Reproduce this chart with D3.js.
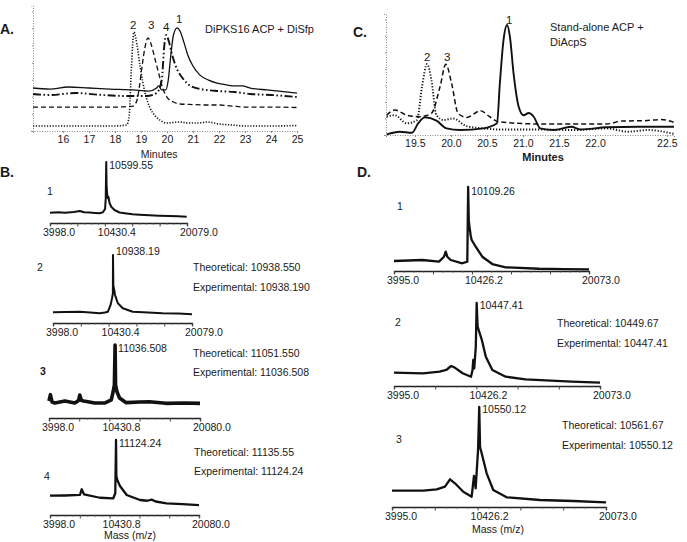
<!DOCTYPE html>
<html>
<head>
<meta charset="utf-8">
<script src="https://cdn.jsdelivr.net/npm/d3@7"></script>
<style>
  body { margin: 0; background: #fff; }
  text { font-family: "Liberation Sans", Arial, sans-serif; fill: #1a1a1a; }
</style>
</head>
<body>
<svg id="main" width="687" height="542"></svg>
<script>
// ---------- panel A: HPLC traces (minutes, relative absorbance) ----------
const aSolid = [[14.85,37.7],[15.5,36.8],[16.2,38.6],[17.0,37.7],[17.8,36.8],[18.7,36],[19.3,35],[19.6,37.7],[19.68,39.5],
  [19.8,36],[19.95,36],[20.05,44.7],[20.15,66.7],[20.25,84.2],[20.39,90.4],[20.5,87.7],[20.65,78],[20.8,66.7],[21.0,57],
  [21.27,49],[21.6,44.7],[21.93,42],[22.3,40.4],[22.6,39.5],[22.9,39.5],[23.2,37.7],[23.85,36],[24.3,35],[25.0,33.3]];
const aDashDot = [[14.85,32.5],[15.5,31.6],[16.5,33.3],[17.5,31.6],[18.5,30.7],[19.2,30.7],[19.6,33.3],[19.8,44.7],
  [19.9,75.4],[19.97,84.2],[20.08,78],[20.2,66.7],[20.4,53.5],[20.6,46.5],[20.9,39.5],[21.3,36.8],[22.0,35],[22.6,34.2],
  [23.2,32.5],[24.0,31.6],[25.0,29.8]];
const aDashed = [[14.85,21],[16,21],[17,21],[18,21],[18.7,21.9],[18.85,27.2],[18.95,40.4],[19.05,57.9],[19.15,72.8],
  [19.27,81.6],[19.4,75.4],[19.55,62.3],[19.7,49.1],[19.85,36.8],[20.0,29.8],[20.25,25.4],[20.5,23.7],[21,23.2],
  [21.5,22.8],[22,22.8],[22.5,21.9],[23,21],[24,21],[25,20.6]];
const aDotted = [[14.85,4.4],[16,4.4],[17,4.4],[18,4.4],[18.45,5.3],[18.55,14],[18.63,53.5],[18.73,86.8],[18.85,75.4],
  [18.97,56],[19.16,33.3],[19.35,20.2],[19.55,13.2],[19.73,9.6],[20.0,7],[20.5,7.9],[20.8,7],[21.2,7],[21.55,7.9],
  [22.0,6.1],[22.5,5.3],[23.0,4.4],[24,4.4],[25,4.8]];
const aPeakNames = ["2", "3", "4", "1"];
const aPeakTimes = [18.7, 19.39, 19.97, 20.47];
const aPeakLevels = [89.5, 89.5, 87.7, 94.7];
const aTicks = [16, 17, 18, 19, 20, 21, 22, 23, 24, 25];

// ---------- panel C: HPLC traces ----------
const cSolid = [[19.11,0.6],[19.29,3],[19.46,2],[19.55,11],[19.64,16],[19.8,13],[19.94,6],[20.13,4.5],[20.45,6],
  [20.64,10.6],[20.68,47],[20.73,86],[20.78,100],[20.82,89],[20.87,56],[20.94,26],[21.01,18],[21.08,20],[21.15,16.6],
  [21.24,6],[21.43,4.5],[21.67,7.5],[21.8,5],[22.08,7],[22.3,7.5],[22.55,7.5]];
const cDotted = [[19.11,16.6],[19.22,18],[19.39,10.6],[19.53,13.6],[19.6,44],[19.67,64.5],[19.73,50],[19.8,18],
  [19.9,13.6],[20.03,15],[20.22,8],[20.45,6],[20.68,5],[21.24,5],[21.7,4.5],[22.08,6],[22.23,3],[22.37,4.5],[22.55,1]];
const cDashed = [[19.11,18],[19.22,22.7],[19.39,18],[19.57,16.6],[19.73,19.7],[19.85,44],[19.93,64.3],[20.01,47],
  [20.1,19.7],[20.22,16],[20.41,22],[20.54,16.6],[20.66,12],[21.24,10],[22.08,10],[22.19,12.7],[22.34,13],[22.46,14],[22.55,11.5]];
const cPeakNames = ["1", "2", "3"];
const cPeakTimes = [20.81, 19.67, 19.95];
const cPeakLevels = [100.9, 67.3, 67.3];
const cTicks = [19.5, 20.0, 20.5, 21.0, 21.5, 22.0, 22.5];

// ---------- panels B and D: MALDI spectra (m/z, relative intensity) ----------
const specB1 = [[3998,16.9],[5000,17.5],[5745,16.9],[6800,18],[7493,19.7],[8000,17.5],[8658,17.2],[9300,16.5],[9823,15.9],
  [10207,17.5],[10464,23],[10540,40],[10599.55,100],[10640,60],[10675,54],[10730,44],[10790,40.5],[10850,43],[10988,32.8],
  [11186,26.7],[11570,21.3],[12153,17.2],[13000,15.5],[13702,14.3],[14500,13.5],[15648,12.6],[16800,12],[17978,11.5],
  [19000,11],[20040,10.3]];
const specB2 = [[3998,15.7],[5500,16.2],[7100,16.6],[8300,15.5],[9398,14.3],[10000,15.5],[10352,16.6],[10662,26.5],
  [10850,38],[10927,43.7],[10938.19,100],[10980,55],[11085,48.5],[11160,42],[11237,38.7],[11501,29],[12076,21.6],
  [13224,16.6],[15000,15.5],[16671,14.3],[18500,13.8],[20079,12.8]];
const specB3 = [[3998,23.3],[4150,32],[4315,22],[4633,20.5],[5691,23.3],[6749,20.5],[7150,24],[7278,31.5],[7450,24],
  [7701,23.3],[8865,20.5],[9923,20.5],[10632,24.7],[10822,35.6],[10960,45],[11036.508,100],[11087,45],[11246,35.6],
  [11510,27.4],[12219,21],[13626,21.9],[14684,22.3],[16451,20.1],[18387,20.5],[20080,20.1]];
const specB4 = [[3998,25.7],[5617,26],[7235,26.7],[7418,34.3],[7667,27.6],[9393,23],[10828,22.3],[11044,29],
  [11124.24,100],[11160,52],[11260,46.7],[11551,38.7],[12274,26.7],[13709,20],[14500,19],[14971,20.5],[15400,18],
  [16590,15.6],[18300,14.5],[20080,13.3]];
const specD1 = [[3995,11.9],[5200,12.5],[6328,13.1],[7705,11.1],[8118,17],[8258,23],[8390,17],[8670,13.1],[9626,9.2],
  [10039,11.1],[10109.26,100],[10160,60],[10236,50.8],[10320,42],[10401,36.9],[10731,28.9],[11275,17],[12100,8.3],
  [13205,4.4],[15950,2.7],[18000,2.3],[20073,2]];
const specD2 = [[3995,16],[6260,15.3],[7551,17.2],[8069,19.3],[8455,24.1],[8710,22.5],[9352,15.3],[10001,11.2],
  [10125,19.3],[10179,31.3],[10256,21.3],[10380,47.3],[10447.41,100],[10520,72],[10643,65.4],[10852,55.4],[11161,35.3],
  [11671,19.3],[12707,11.2],[14253,8.1],[17855,5.2],[20073,4]];
const specD3 = [[3995,16.3],[6346,16.3],[7352,17.7],[7975,20.3],[8351,27.7],[8726,23.7],[9350,15.3],[9980,10.3],
  [10153,31],[10281,18.7],[10460,57],[10550.12,100],[10610,60],[10732,53.7],[11107,33.7],[11603,17],[12609,9.7],
  [15110,7],[17611,6],[20073,4.7]];

const massTicksB12 = ["3998.0", "10430.4", "20079.0"];
const massTicksB34 = ["3998.0", "10430.8", "20080.0"];
const massTicksD = ["3995.0", "10426.2", "20073.0"];
const peakMasses = ["10599.55", "10938.19", "11036.508", "11124.24", "10109.26", "10447.41", "10550.12"];
const theoretical = [null, "10938.550", "11051.550", "11135.55", null, "10449.67", "10561.67"];
const experimental = [null, "10938.190", "11036.508", "11124.24", null, "10447.41", "10550.12"];
const traceNames = ["1", "2", "3", "4", "1", "2", "3"];

const svg = d3.select('#main');

// ---------- chromatogram helper ----------
function chromatogram(g, x, y, yTop, ticks, fmt) {
  const xAxis = d3.axisBottom(x).tickValues(ticks).tickSize(2).tickPadding(3).tickFormat(fmt);
  const gx = g.append('g').attr('transform', `translate(0,${y.range()[0]})`).call(xAxis);
  gx.select('.domain').attr('stroke', '#888').attr('stroke-dasharray', '1,1.5');
  gx.selectAll('.tick line').attr('stroke', '#888');
  gx.selectAll('.tick text').attr('font-size', 10.5).attr('fill', '#222')
    .style('font-family', '"Liberation Sans", Arial, sans-serif');

  const yAxis = d3.axisLeft(y).tickValues(d3.range(0, yTop, 15)).tickSize(2).tickFormat('');
  const gy = g.append('g').attr('transform', `translate(${x.range()[0]},0)`).call(yAxis);
  gy.select('.domain').attr('stroke', '#888').attr('stroke-dasharray', '1,1.5');
  gy.selectAll('.tick line').attr('stroke', '#888').attr('stroke-dasharray', '1,1');
}

function trace(g, data, x, y, width, dash) {
  g.append('path')
    .datum(data)
    .attr('fill', 'none')
    .attr('stroke', '#111')
    .attr('stroke-width', width)
    .attr('stroke-dasharray', dash)
    .attr('stroke-linejoin', 'round')
    .attr('d', d3.line().x(d => x(d[0])).y(d => y(d[1])).curve(d3.curveMonotoneX));
}

// ---------- panel A ----------
{
  const g = svg.append('g');
  const x = d3.scaleLinear().domain([14.85, 25]).range([33, 297]);
  const y = d3.scaleLinear().domain([0, 110]).range([131, 5.6]);
  chromatogram(g, x, y, 110, aTicks, d3.format('d'));
  trace(g, aDotted, x, y, 1.6, '1.2,1.6');
  trace(g, aDashed, x, y, 1.3, '5,3');
  trace(g, aDashDot, x, y, 1.9, '8,2.5,1.6,2.5,1.6,2.5');
  trace(g, aSolid, x, y, 1.3, null);

  g.selectAll('.pk').data(aPeakNames).join('text')
    .attr('x', (d, i) => x(aPeakTimes[i])).attr('y', (d, i) => y(aPeakLevels[i]))
    .attr('text-anchor', 'middle').attr('font-size', 11.5).text(d => d);

  g.append('text').attr('x', 205).attr('y', 33).attr('font-size', 11).text('DiPKS16 ACP + DiSfp');
  g.append('text').attr('x', x(19.7)).attr('y', 158).attr('text-anchor', 'middle').attr('font-size', 10.5).text('Minutes');
  g.append('text').attr('x', 0).attr('y', 34).attr('font-size', 14).attr('font-weight', 'bold').text('A.');
}

// ---------- panel C ----------
{
  const g = svg.append('g');
  const x = d3.scaleLinear().domain([19.1, 22.0, 22.55]).range([386, 595, 674]);
  const y = d3.scaleLinear().domain([0, 110]).range([135, 14]);
  chromatogram(g, x, y, 110, cTicks, d3.format('.1f'));
  trace(g, cDotted, x, y, 1.9, '1.2,1.8');
  trace(g, cDashed, x, y, 1.5, '5,3');
  trace(g, cSolid, x, y, 1.9, null);

  g.selectAll('.pk').data(cPeakNames).join('text')
    .attr('x', (d, i) => x(cPeakTimes[i])).attr('y', (d, i) => y(cPeakLevels[i]))
    .attr('text-anchor', 'middle').attr('font-size', 11.5).text(d => d);

  g.append('text').attr('x', 550).attr('y', 31).attr('font-size', 11).text('Stand-alone ACP +');
  g.append('text').attr('x', 550).attr('y', 46).attr('font-size', 11).text('DiAcpS');
  g.append('text').attr('x', 543).attr('y', 161).attr('text-anchor', 'middle').attr('font-size', 11)
    .attr('font-weight', 'bold').text('Minutes');
  g.append('text').attr('x', 353).attr('y', 37).attr('font-size', 14).attr('font-weight', 'bold').text('C.');
}

// ---------- panels B and D ----------
const spectra = [specB1, specB2, specB3, specB4, specD1, specD2, specD3];
const massTicks = [massTicksB12, massTicksB12, massTicksB34, massTicksB34, massTicksD, massTicksD, massTicksD];
// layout of each small spectrum box (pixels)
const boxes = [
  { x0: 50, x1: 187, axisY: 223, topY: 162, labY: 169, numX: 50, numY: 195, thX: 0, thY: 0, exY: 0, lw: 2 },
  { x0: 53, x1: 192, axisY: 323, topY: 255, labY: 255, numX: 40, numY: 271, thX: 193, thY: 271, exY: 291, lw: 2 },
  { x0: 49, x1: 200, axisY: 418, topY: 345, labY: 352, numX: 43, numY: 375, thX: 193, thY: 357, exY: 376, lw: 3.6, bold: true },
  { x0: 50, x1: 199, axisY: 515, topY: 440, labY: 447, numX: 47, numY: 480, thX: 194, thY: 456, exY: 475, lw: 2.3 },
  { x0: 394, x1: 589, axisY: 271, topY: 187, labY: 195, numX: 400, numY: 210, thX: 0, thY: 0, exY: 0, lw: 2.3 },
  { x0: 394, x1: 600, axisY: 386, topY: 303, labY: 309, numX: 398, numY: 326, thX: 557, thY: 327, exY: 347, lw: 2.3 },
  { x0: 392, x1: 606, axisY: 507, topY: 407, labY: 413, numX: 399, numY: 443, thX: 562, thY: 429, exY: 449, lw: 2.3 }
];

spectra.forEach((data, i) => {
  const b = boxes[i];
  const tl = massTicks[i];
  const lo = +tl[0], hi = +tl[2];
  const g = svg.append('g');
  const x = d3.scaleLinear().domain([lo, hi]).range([b.x0, b.x1]);
  const y = d3.scaleLinear().domain([0, 100]).range([b.axisY, b.topY]);

  const ax = d3.axisBottom(x).tickValues(d3.range(0, 21).map(k => lo + (hi - lo) * k / 20)).tickSize(3).tickFormat('');
  const ga = g.append('g').attr('transform', `translate(0,${b.axisY})`).call(ax);
  ga.select('.domain').attr('stroke', '#222').attr('stroke-width', 1.4);
  ga.selectAll('.tick line').attr('stroke', '#444').attr('y2', (d, k) => k % 4 === 0 ? 3.5 : 1.5);

  g.selectAll('.ml').data(tl).join('text')
    .attr('x', d => x(+d) - 7).attr('y', b.axisY + 13)
    .attr('font-size', 10.5).text(d => d);

  g.append('path').datum(data)
    .attr('fill', 'none').attr('stroke', '#111').attr('stroke-width', b.lw).attr('stroke-linejoin', 'round')
    .attr('d', d3.line().x(d => x(d[0])).y(d => y(d[1])));

  g.append('text').attr('x', x(+peakMasses[i]) + 3).attr('y', b.labY).attr('font-size', 10.5).text(peakMasses[i]);
  g.append('text').attr('x', b.numX).attr('y', b.numY).attr('text-anchor', 'middle').attr('font-size', 10.5)
    .attr('font-weight', b.bold ? 'bold' : 'normal').text(traceNames[i]);
  if (theoretical[i]) {
    g.append('text').attr('x', b.thX).attr('y', b.thY).attr('font-size', 10.5).text('Theoretical: ' + theoretical[i]);
    g.append('text').attr('x', b.thX).attr('y', b.exY).attr('font-size', 10.5).text('Experimental: ' + experimental[i]);
  }
});

svg.append('text').attr('x', 130).attr('y', 539).attr('text-anchor', 'middle').attr('font-size', 10.5).text('Mass (m/z)');
svg.append('text').attr('x', 498).attr('y', 533).attr('text-anchor', 'middle').attr('font-size', 10.5).text('Mass (m/z)');
svg.append('text').attr('x', 0).attr('y', 177).attr('font-size', 14).attr('font-weight', 'bold').text('B.');
svg.append('text').attr('x', 357).attr('y', 177).attr('font-size', 14).attr('font-weight', 'bold').text('D.');
</script>
</body>
</html>
